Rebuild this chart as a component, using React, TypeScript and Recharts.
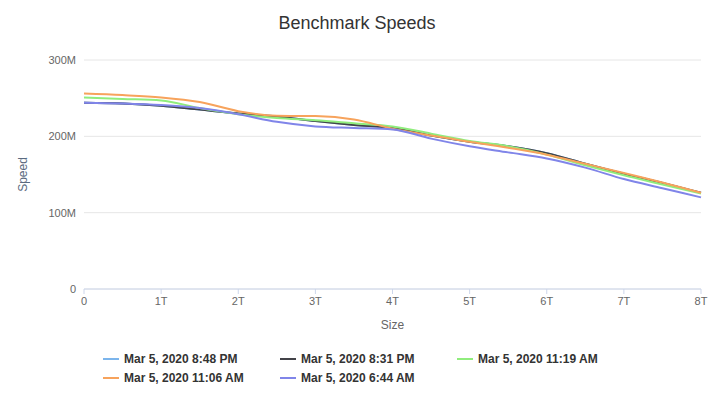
import React from 'react';
import { LineChart, Line, XAxis, YAxis, CartesianGrid } from 'recharts';

const sizes = [0, 0.5, 1, 1.5, 2, 2.5, 3, 3.5, 4, 4.5, 5, 5.5, 6, 6.5, 7, 7.5, 8];
const xTicks = [0, 1, 2, 3, 4, 5, 6, 7, 8];
const yTicks = [0, 100, 200, 300];

const seriesNames = [
  'Mar 5, 2020 8:48 PM',
  'Mar 5, 2020 8:31 PM',
  'Mar 5, 2020 11:19 AM',
  'Mar 5, 2020 11:06 AM',
  'Mar 5, 2020 6:44 AM',
];
const seriesColors = ['#7cb5ec', '#434348', '#90ed7d', '#f7a35c', '#8085e9'];

const run848pm = [244, 243, 240, 235, 230, 226, 220, 215, 211, 201, 193, 187, 178, 164, 151, 139, 126];
const run831pm = [244, 243, 240, 235, 230, 226, 220, 215, 211, 201, 193, 187, 178, 164, 151, 139, 126];
const run1119am = [251, 249, 247, 237, 229, 224, 221, 217, 213, 203.5, 194, 187, 176, 162, 149, 137, 125];
const run1106am = [256, 254, 251, 245, 233, 227, 226.5, 222, 210, 201, 193, 185, 176, 164, 152, 139.5, 126];
const run644am = [244, 243, 241, 237, 229, 219, 213, 211, 209, 197, 187, 179, 171, 159, 144, 132, 120];

const seriesValues = [run848pm, run831pm, run1119am, run1106am, run644am];

const data = sizes.map((s, i) => {
  const row: Record<string, number> = { size: s };
  seriesValues.forEach((vals, k) => {
    row['s' + k] = vals[i];
  });
  return row;
});

const FONT = '"Liberation Sans", Arial, sans-serif';

export default function App() {
  return (
    <div style={{ position: 'absolute', left: 0, top: 0, width: 714, height: 394, fontFamily: FONT }}>
      <div
        style={{
          position: 'absolute',
          top: 13,
          left: 0,
          width: 714,
          textAlign: 'center',
          fontSize: 18,
          color: '#333333',
        }}
      >
        Benchmark Speeds
      </div>
      <LineChart
        width={714}
        height={394}
        data={data}
        margin={{ top: 60, right: 13, left: 0, bottom: 65 }}
        style={{ fontFamily: FONT }}
      >
        <CartesianGrid horizontal={true} vertical={false} stroke="#e6e6e6" />
        <XAxis
          dataKey="size"
          type="number"
          domain={[0, 8]}
          ticks={xTicks}
          interval={0}
          height={40}
          tickFormatter={(v: number) => (v === 0 ? '0' : v + 'T')}
          stroke="#ccd6eb"
          tickSize={5}
          tickMargin={3}
          tick={{ fill: '#666666', fontSize: 11 }}
          label={{ value: 'Size', position: 'insideBottom', offset: 0, fill: '#666666', fontSize: 12 }}
        />
        <YAxis
          type="number"
          domain={[0, 300]}
          ticks={yTicks}
          width={84}
          axisLine={false}
          tickLine={false}
          tickFormatter={(v: number) => (v === 0 ? '0' : v + 'M')}
          tick={{ fill: '#666666', fontSize: 11 }}
          label={{
            value: 'Speed',
            angle: -90,
            position: 'insideLeft',
            offset: 23,
            fill: '#5a6a80',
            fontSize: 12,
            style: { textAnchor: 'middle' },
          }}
        />
        {seriesNames.map((name, k) => (
          <Line
            key={name}
            type="monotone"
            dataKey={'s' + k}
            name={name}
            stroke={seriesColors[k]}
            strokeWidth={2}
            dot={false}
            isAnimationActive={false}
          />
        ))}
      </LineChart>
      {seriesNames.map((name, k) => {
        const col = k % 3;
        const row = Math.floor(k / 3);
        return (
          <div
            key={name}
            style={{
              position: 'absolute',
              left: 103 + col * 177,
              top: 351 + row * 19,
              height: 16,
              display: 'flex',
              alignItems: 'center',
              whiteSpace: 'nowrap',
              fontSize: 12,
              fontWeight: 'bold',
              color: '#333333',
            }}
          >
            <span style={{ display: 'inline-block', width: 16, height: 2, background: seriesColors[k], marginRight: 5 }} />
            <span>{name}</span>
          </div>
        );
      })}
    </div>
  );
}
